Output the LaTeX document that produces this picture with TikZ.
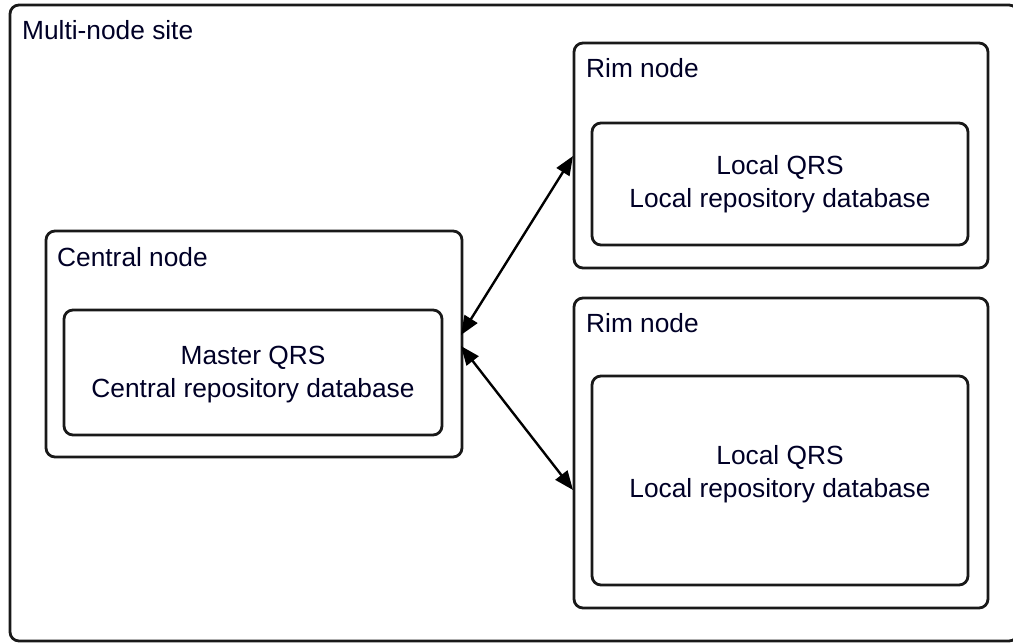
\documentclass[tikz,border=0pt]{standalone}
\usepackage{fontspec}
\setmainfont{Liberation Sans}
\usetikzlibrary{arrows.meta}
\begin{document}
\begin{tikzpicture}[x=1pt,y=-1pt,
  box/.style={draw=black!90,line width=2.8pt,rounded corners=9pt},
  lbl/.style={anchor=base west,inner sep=0pt,font=\fontsize{26.3}{30}\selectfont,text=black!85!blue},
  txt/.style={anchor=base,inner sep=0pt,font=\fontsize{26.3}{30}\selectfont,text=black!85!blue},
  link/.style={line width=2.4pt,{Triangle[length=19pt,width=15pt]}-{Triangle[length=19pt,width=15pt]}}]
\useasboundingbox (0,0) rectangle (1013,643);
% whole site
\draw[box] (10,5) rectangle (1018,641);
\node[lbl] (site) at (22,39) {Multi-node site};
% central node
\draw[box] (46,231) rectangle (462,457);
\node[lbl] (cl) at (57,266) {Central node};
\draw[box] (64,310) rectangle (442,435);
\node[txt] (m1) at (253,364) {Master QRS};
\node[txt] (m2) at (253,397) {Central repository database};
\coordinate (c1) at (461,335);
\coordinate (c2) at (461,346);
% upper rim node
\draw[box] (574,43) rectangle (988,268);
\node[lbl] (r1) at (586,77) {Rim node};
\draw[box] (592,123) rectangle (968,245);
\node[txt] (a1) at (780,174) {Local QRS};
\node[txt] (a2) at (780,207) {Local repository database};
\coordinate (t1) at (573,156);
% lower rim node
\draw[box] (574,298) rectangle (988,608);
\node[lbl] (r2) at (586,332) {Rim node};
\draw[box] (592,376) rectangle (968,585);
\node[txt] (b1) at (780,464) {Local QRS};
\node[txt] (b2) at (780,497) {Local repository database};
\coordinate (t2) at (573,490);
% replication links
\draw[link] (c1) -- (t1);
\draw[link] (c2) -- (t2);
\end{tikzpicture}
\end{document}
